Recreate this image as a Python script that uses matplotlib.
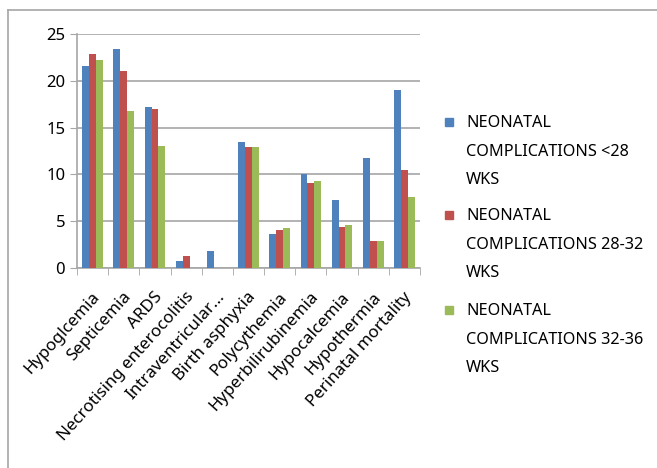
import matplotlib.pyplot as plt
from matplotlib.patches import Rectangle
from matplotlib.lines import Line2D
import numpy as np

complications = ["Hypoglcemia", "Septicemia", "ARDS", "Necrotising enterocolitis",
                 "Intraventricular...", "Birth asphyxia", "Polycythemia",
                 "Hyperbilirubinemia", "Hypocalcemia", "Hypothermia", "Perinatal mortality"]
under_28 = [21.6, 23.4, 17.2, 0.75, 1.8, 13.5, 3.6, 10.0, 7.3, 11.7, 19.0]
wk_28_32 = [22.9, 21.1, 17.0, 1.3, 0, 12.9, 4.1, 9.1, 4.4, 2.9, 10.5]
wk_32_36 = [22.2, 16.8, 13.0, 0, 0, 12.9, 4.3, 9.3, 4.6, 2.9, 7.6]
series_labels = ["NEONATAL\nCOMPLICATIONS <28\nWKS",
                 "NEONATAL\nCOMPLICATIONS 28-32\nWKS",
                 "NEONATAL\nCOMPLICATIONS 32-36\nWKS"]
colors = ["#4F81BD", "#C0504D", "#9BBB59"]

plt.rcParams["font.family"] = ["Noto Sans", "DejaVu Sans"]

fig = plt.figure(figsize=(6.57, 4.68), dpi=100)
ax = fig.add_axes([77 / 657, 1 - 268 / 468, (420 - 77) / 657, (268 - 34) / 468])

x = np.arange(len(complications))
width = 0.22
for i, (vals, c) in enumerate(zip([under_28, wk_28_32, wk_32_36], colors)):
    ax.bar(x + (i - 1) * width, vals, width, color=c, zorder=3)

ax.set_xlim(-0.5, len(complications) - 0.5)
ax.set_ylim(0, 25)
ax.set_yticks([0, 5, 10, 15, 20, 25])
ax.yaxis.grid(True, color="#a6a6a6", linewidth=1.2, zorder=0)
# label anchors sit a bit right of the group centre (ticks themselves are hidden)
ax.set_xticks(x + 0.16)
ax.set_xticklabels(complications, rotation=48, ha="right", va="center",
                   rotation_mode="anchor", fontsize=12.2)
ax.set_xticks(np.arange(len(complications) + 1) - 0.5, minor=True)
ax.tick_params(axis="x", which="major", length=0, pad=19)
ax.tick_params(axis="x", which="minor", length=5, color="#a6a6a6", direction="out")
ax.tick_params(axis="y", length=5, color="#a6a6a6", labelsize=12)
for side in ["top", "right"]:
    ax.spines[side].set_visible(False)
for side in ["left", "bottom"]:
    ax.spines[side].set_color("#a6a6a6")
    ax.spines[side].set_linewidth(1.2)

# legend drawn by hand so the swatch sits on the first line
legend_tops = [122, 215, 310]
for lab, c, top in zip(series_labels, colors, legend_tops):
    fig.add_artist(Rectangle((445 / 657, 1 - (top + 4) / 468), 8 / 657, 8 / 468,
                             transform=fig.transFigure, color=c))
    fig.text(466 / 657, 1 - (top - 7) / 468, lab, fontsize=11.7, va="top",
             linespacing=2.05)

# chart area border
fig.add_artist(Line2D([8 / 657, 8 / 657], [0, 1 - 10 / 468], transform=fig.transFigure,
                      color="#a6a6a6", linewidth=1.2))
fig.add_artist(Line2D([8 / 657, 1], [1 - 10 / 468, 1 - 10 / 468], transform=fig.transFigure,
                      color="#a6a6a6", linewidth=1.2))

fig.savefig("out.png", dpi=100)
